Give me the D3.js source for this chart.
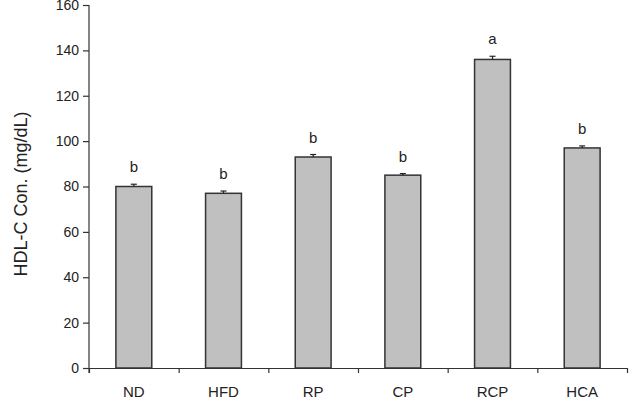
<!DOCTYPE html>
<html>
<head>
<meta charset="utf-8">
<script src="https://cdn.jsdelivr.net/npm/d3@7"></script>
<style>
  body { margin: 0; background: #fff; }
  svg { display: block; font-family: "Liberation Sans", Arial, sans-serif; }
  .axis path, .axis line { stroke: #333; stroke-width: 1.2; }
  .axis text { fill: #222; }
</style>
</head>
<body>
<svg></svg>
<script>
const groups = ["ND", "HFD", "RP", "CP", "RCP", "HCA"];
const values = [80, 77, 93, 85, 136, 97];
const errors = [1, 1, 1.1, 0.7, 1.4, 0.9];
const letters = ["b", "b", "b", "b", "a", "b"];
const yTicks = [0, 20, 40, 60, 80, 100, 120, 140, 160];

const svg = d3.select("svg")
    .attr("width", 629)
    .attr("height", 400);

const margin = {top: 5, right: 2, bottom: 32, left: 89},
      width = 629 - margin.left - margin.right,
      height = 400 - margin.top - margin.bottom;

const g = svg.append("g")
    .attr("transform", `translate(${margin.left},${margin.top})`);

const data = groups.map((d, i) => ({name: d, value: values[i], err: errors[i], letter: letters[i]}));

const x = d3.scaleBand()
    .domain(groups)
    .range([0, width])
    .paddingInner(0.6)
    .paddingOuter(0.3);

const y = d3.scaleLinear()
    .domain([0, 160])
    .range([height, 0]);

// y axis
g.append("g")
    .attr("class", "axis y-axis")
    .call(d3.axisLeft(y).tickValues(yTicks).tickSize(6).tickSizeOuter(0).tickPadding(4))
    .call(a => a.select(".domain").attr("d", `M0,0V${height + 5}`))
    .call(a => a.selectAll("text").style("font-size", "14px"));

// bars
g.selectAll(".bar")
    .data(data)
    .enter().append("rect")
    .attr("class", "bar")
    .attr("x", d => x(d.name))
    .attr("y", d => y(d.value))
    .attr("width", x.bandwidth())
    .attr("height", d => height - y(d.value))
    .attr("fill", "#c0c0c0")
    .attr("stroke", "#333")
    .attr("stroke-width", 1.5);

// error bars
const eb = g.selectAll(".err")
    .data(data)
    .enter().append("g")
    .attr("class", "err")
    .attr("stroke", "#222")
    .attr("stroke-width", 1.2);

eb.append("line")
    .attr("x1", d => x(d.name) + x.bandwidth() / 2)
    .attr("x2", d => x(d.name) + x.bandwidth() / 2)
    .attr("y1", d => y(d.value))
    .attr("y2", d => y(d.value + d.err));

eb.append("line")
    .attr("x1", d => x(d.name) + x.bandwidth() / 2 - 3)
    .attr("x2", d => x(d.name) + x.bandwidth() / 2 + 3)
    .attr("y1", d => y(d.value + d.err))
    .attr("y2", d => y(d.value + d.err));

// significance letters
g.selectAll(".letter")
    .data(data)
    .enter().append("text")
    .attr("class", "letter")
    .attr("x", d => x(d.name) + x.bandwidth() / 2)
    .attr("y", d => y(d.value + d.err) - 12)
    .attr("text-anchor", "middle")
    .style("font-size", "15px")
    .style("fill", "#222")
    .text(d => d.letter);

// x axis: boundary ticks
const xb = d3.scaleLinear().domain([0, groups.length]).range([0, width]);
g.append("g")
    .attr("class", "axis x-ticks")
    .attr("transform", `translate(0,${height})`)
    .call(d3.axisBottom(xb).ticks(groups.length).tickSize(5).tickSizeOuter(0).tickFormat(""));

// x axis labels
g.append("g")
    .attr("class", "axis x-axis")
    .attr("transform", `translate(0,${height})`)
    .call(d3.axisBottom(x).tickSize(0).tickPadding(18))
    .call(a => a.select(".domain").remove())
    .call(a => a.selectAll("text").style("font-size", "15px"));

// y axis title
g.append("text")
    .attr("class", "y-axis-label")
    .attr("x", -189)
    .attr("y", -62)
    .attr("text-anchor", "middle")
    .attr("transform", "rotate(-90)")
    .style("font-size", "18px")
    .style("fill", "#222")
    .text("HDL-C Con. (mg/dL)");
</script>
</body>
</html>
